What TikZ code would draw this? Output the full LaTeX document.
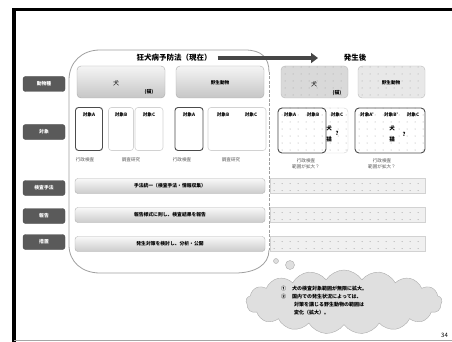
\documentclass[tikz,border=0pt]{standalone}
\usepackage{fontspec}
\setmainfont{Noto Sans CJK JP}
\usetikzlibrary{shapes.symbols,arrows.meta}
\definecolor{labgray}{HTML}{5A5A5A}
\begin{document}
\begin{tikzpicture}[x=1pt,y=-1pt,
  lab/.style={fill=labgray, draw=gray!60!black, rounded corners=2.5pt, text=white, font=\fontsize{4.8}{5}\selectfont\bfseries, minimum width=42pt, minimum height=15pt, inner sep=0pt},
  topbox/.style={draw=gray!65, rounded corners=4pt, top color=gray!8, bottom color=gray!45, minimum width=88pt, minimum height=32pt, inner sep=0pt},
  dotfill/.style={path picture={\foreach \i in {0,...,24}{\foreach \j in {0,...,7}{\fill[gray!75] ([xshift=\i*8pt+4pt,yshift=\j*7pt+3pt]path picture bounding box.south west) circle (0.5pt);}}}},
  dotbox/.style={draw=gray!55, rounded corners=4pt, dotfill, inner sep=0pt},
  subA/.style={draw=gray!60!black, line width=0.9pt, rounded corners=3pt, fill=white, inner sep=0pt},
  subL/.style={draw=gray!35, line width=0.6pt, rounded corners=3pt, fill=white, inner sep=0pt},
  tx/.style={font=\fontsize{4.6}{5}\selectfont\bfseries, inner sep=0pt},
  small/.style={font=\fontsize{4.6}{5.5}\selectfont, text=gray!70!black, inner sep=0pt, align=center},
  rowbox/.style={draw=gray!60, rounded corners=3pt, top color=gray!5, bottom color=gray!40, minimum width=190pt, minimum height=15pt, inner sep=0pt, font=\fontsize{4.8}{5}\selectfont\bfseries},
  rowdot/.style={draw=gray!35, fill=gray!12, dotfill, minimum width=155pt, minimum height=15pt, inner sep=0pt},
  dark/.style={font=\fontsize{5.5}{6}\selectfont\bfseries, text=black, inner sep=0pt}]
\useasboundingbox (0,0) rectangle (452,342);
\fill[white] (0,0) rectangle (452,342);
% slide frame
\draw[line width=3.5pt] (14,342) -- (14,9.5) -- (452,9.5);
\draw[gray!70, line width=0.6pt] (14,340) -- (452,340);
% region of the current law
\draw[gray!75, line width=0.8pt] (269,72) .. controls (269,58) and (262,50) .. (245,50) -- (100,50)
  .. controls (82,50) and (69,62) .. (69,80) -- (69,245)
  .. controls (69,262) and (82,273) .. (100,273) -- (235,273)
  .. controls (255,273) and (269,265) .. (269,250);
\draw[gray!75, line width=0.8pt, dash pattern=on 3pt off 1.5pt] (269,72) -- (269,250);
% left labels
\node[lab] (l1) at (44,84) {動物種};
\node[lab] (l2) at (44,132) {対象};
\node[lab] (l3) at (44,188) {検査手法};
\node[lab] (l4) at (44,216) {報告};
\node[lab] (l5) at (44,242) {措置};
% title and arrow
\node[font=\fontsize{7.5}{8}\selectfont\bfseries, inner sep=0pt] (title) at (174,58) {狂犬病予防法（現在）};
\node[font=\fontsize{7.5}{8}\selectfont\bfseries, inner sep=0pt] (after) at (355,58) {発生後};
\coordinate (arrend) at (318,58);
\draw[line width=3.5pt, gray!55!black, -{Triangle[length=7pt,width=10pt]}] ([xshift=6pt]title.east) -- (arrend);
% top boxes
\node[topbox] (dog) at (121,82) {};
\node[dark, font=\fontsize{6}{6}\selectfont] (dogt) at (116,83) {犬};
\node[dark, font=\fontsize{4.8}{5}\selectfont\bfseries] (catt) at (149,92) {(猫)};
\node[topbox] (wild) at (220,82) {};
\node[tx] (wildt) at (220,83) {野生動物};
\node[dotbox, fill=gray!30, minimum width=67pt, minimum height=32pt] (dog2) at (314.5,82) {};
\node[dark, font=\fontsize{6}{6}\selectfont] (dog2t) at (314,84) {犬};
\node[dark, font=\fontsize{4.8}{5}\selectfont\bfseries] (cat2t) at (337,93) {(猫)};
\node[dotbox, fill=gray!18, minimum width=67pt, minimum height=32pt] (wild2) at (391.5,82) {};
\node[tx] (wild2t) at (391,83) {野生動物};
% sub boxes, current law
\node[subA, minimum width=27pt, minimum height=43pt] (a1) at (89,129) {};
\node[subL, minimum width=25pt, minimum height=43pt] (b1) at (121,129) {};
\node[subL, minimum width=28pt, minimum height=43pt] (c1) at (149,129) {};
\node[tx] at (89,115) {対象A};
\node[tx] at (121,115) {対象B};
\node[tx] at (149,115) {対象C};
\node[subA, minimum width=28pt, minimum height=43pt] (a2) at (189,129) {};
\node[subL, minimum width=58pt, minimum height=43pt] (bc2) at (237,129) {};
\node[tx] at (189,115) {対象A};
\node[tx] at (223,115) {対象B};
\node[tx] at (251,115) {対象C};
\node[small] (s1) at (85,160) {行政検査};
\node[small] (s2) at (131,160) {調査研究};
\node[small] (s3) at (182,160) {行政検査};
\node[small] (s4) at (231,160) {調査研究};
% sub boxes, after outbreak
\node[dotbox, draw=gray!35, fill=white, minimum width=70pt, minimum height=45pt] (g1) at (313,130.5) {};
\node[dotbox, draw=gray!60!black, line width=0.9pt, fill=white, minimum width=48pt, minimum height=45pt] (g1a) at (302,130.5) {};
\node[tx] at (290,115) {対象A};
\node[tx] at (313,115) {対象B};
\node[tx] at (337,115) {対象C};
\node[dark] (q1a) at (329,128) {犬};
\node[dark] (q1b) at (329,139) {猫};
\node[dark] (q1c) at (337,133) {?};
\node[dotbox, draw=gray!60!black, line width=0.9pt, fill=white, minimum width=70pt, minimum height=45pt] (g2) at (390,130.5) {};
\node[tx] at (367,115) {対象A'};
\node[tx] at (391,115) {対象B'};
\node[tx] at (413,115) {対象C};
\node[dark] (q2a) at (392,128) {犬};
\node[dark] (q2b) at (392,139) {猫};
\node[dark] (q2c) at (404,134) {?};
\node[small] (s5) at (306,164) {行政検査\\範囲が拡大？};
\node[small] (s6) at (382,164) {行政検査\\範囲が拡大？};
% rows
\node[rowbox] (r1) at (170,186) {手法統一（検査手法・情報収集）};
\node[rowbox] (r2) at (170,215) {報告様式に則し、検査結果を報告};
\node[rowbox] (r3) at (170,244) {発生対策を検討し、分析・公開};
\node[rowdot] (d1) at (347.5,186) {};
\node[rowdot] (d2) at (347.5,215) {};
\node[rowdot] (d3) at (347.5,244) {};
% cloud
\node[draw=gray!65, fill=gray!25, circle, minimum size=5pt, inner sep=0pt] (b1s) at (276,261) {};
\node[draw=gray!65, fill=gray!25, circle, minimum size=9pt, inner sep=0pt] (b2s) at (290,265) {};
\node[cloud, cloud puffs=17, cloud puff arc=115, aspect=3.2, draw=gray!65, fill=gray!25, minimum width=196pt, minimum height=64pt, inner sep=0pt] (cloud) at (344,302) {};
\node[font=\fontsize{5}{8}\selectfont\bfseries, align=left, inner sep=0pt, anchor=north west] (ctext) at (281,286)
  {①\hspace{6pt}犬の検査対象範囲が無限に拡大。\\②\hspace{6pt}国内での発生状況によっては、\\\hspace{13pt}対策を講じる野生動物の範囲は\\\hspace{13pt}変化（拡大）。};
\node[font=\fontsize{6}{6}\selectfont, anchor=west, inner sep=0pt] (page) at (441,335) {34};
\end{tikzpicture}
\end{document}
